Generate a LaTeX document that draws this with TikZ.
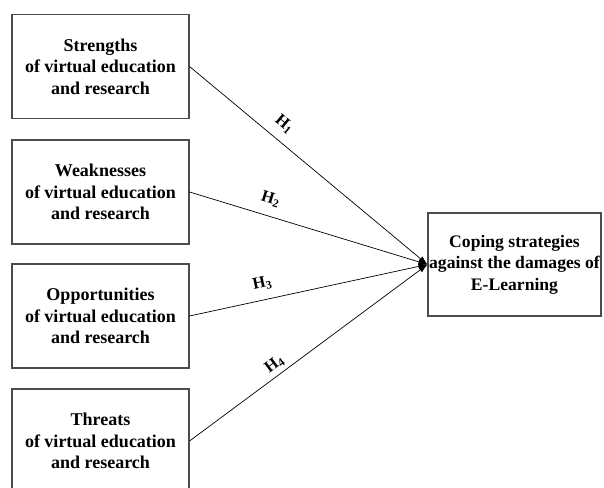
\documentclass[tikz,border=0pt]{standalone}
\usepackage{fontspec}
\setmainfont{Liberation Serif}
\usetikzlibrary{arrows.meta}
\newcommand{\hyp}[1]{\textbf{H$_{\mathbf{#1}}$}}

\begin{document}
\begin{tikzpicture}[x=1pt, y=1pt,
    swot/.style={draw=black!70, line width=1.1pt, minimum width=177pt, minimum height=104pt,
      align=center, font=\fontsize{18}{21.5}\selectfont\bfseries, inner sep=0pt},
    goal/.style={draw=black!70, line width=1.1pt, minimum width=173pt, minimum height=103pt,
      align=center, font=\fontsize{17.6}{21.5}\selectfont\bfseries, inner sep=0pt},
    hlink/.style={line width=0.7pt, -{Latex[length=9pt,width=6pt]}},
    hlab/.style={sloped, inner sep=1pt, font=\fontsize{16.5}{16.5}\selectfont}]
      \useasboundingbox (0,0) rectangle (604,487);
      \node[swot] (S) at (100.5,420.5) {Strengths\\of virtual education\\and research};
      \node[swot] (W) at (100.5,295) {Weaknesses\\of virtual education\\and research};
      \node[swot] (O) at (100.5,171) {Opportunities\\of virtual education\\and research};
      \node[swot] (T) at (100.5,46) {Threats\\of virtual education\\and research};
      \node[goal] (C) at (514.5,222.5) {Coping strategies\\against the damages of\\E-Learning};
      \draw[hlink] (S.east) -- node[hlab, pos=0.355, above=8pt] {\hyp{1}} (C.west);
      \draw[hlink] (W.east) -- node[hlab, pos=0.32, above=9pt] {\hyp{2}} (C.west);
      \draw[hlink] (O.east) -- node[hlab, pos=0.32, above=8pt] {\hyp{3}} (C.west);
      \draw[hlink] (T.east) -- node[hlab, pos=0.385, above=3pt] {\hyp{4}} (C.west);
\end{tikzpicture}
\end{document}
